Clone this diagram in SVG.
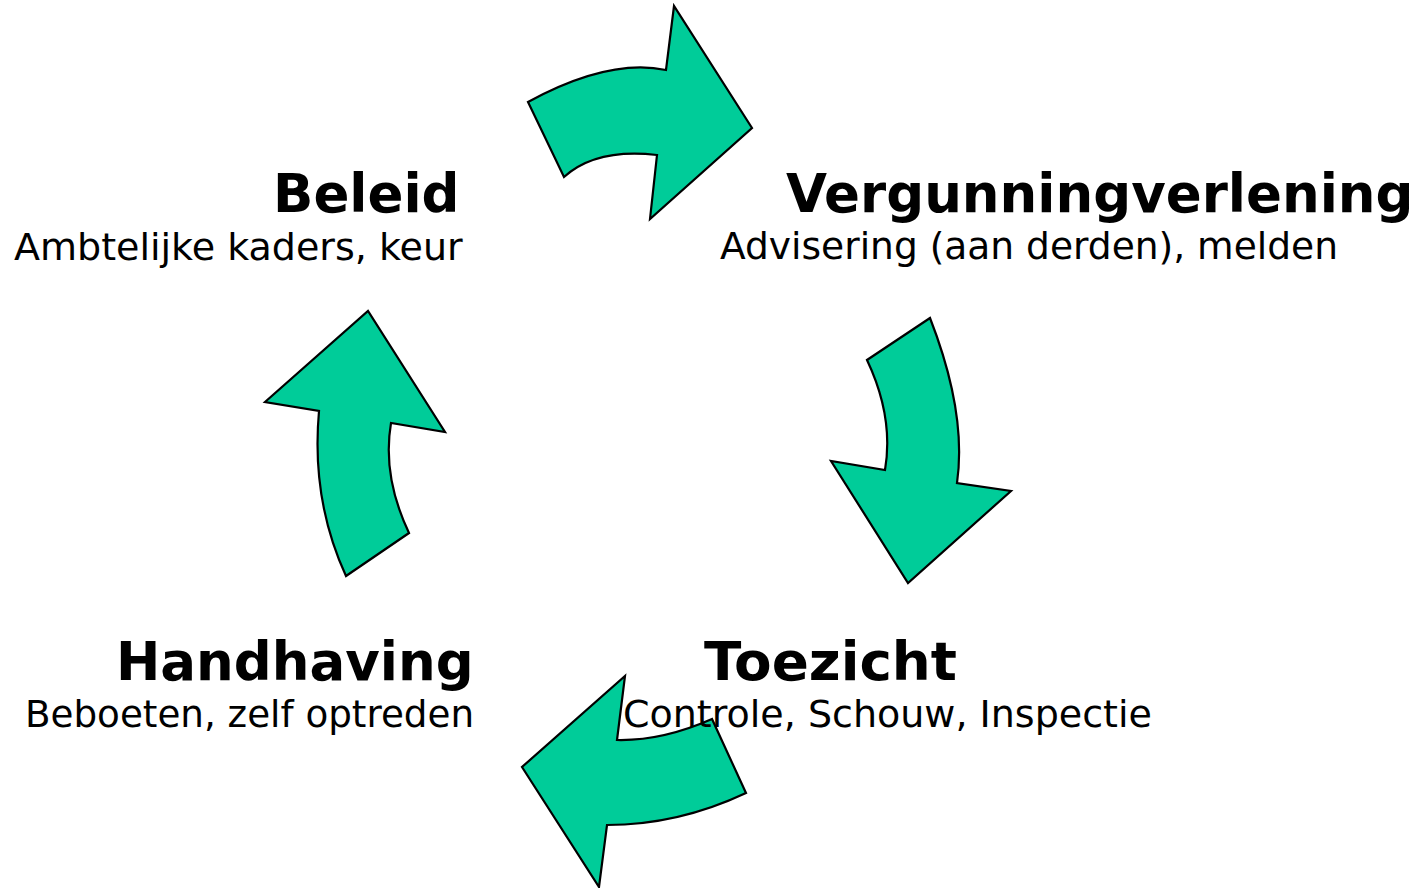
<svg xmlns="http://www.w3.org/2000/svg" width="1428" height="888" viewBox="0 0 1428 888">
<style>
.arrow{fill:#00CC99;stroke:#000;stroke-width:2.2;stroke-linejoin:miter}
.title{font-family:"DejaVu Sans",Verdana,sans-serif;font-weight:bold;font-size:53px;fill:#000}
.sub{font-family:"DejaVu Sans",Verdana,sans-serif;font-size:38px;fill:#000}
</style>
<rect width="1428" height="888" fill="#fff"/>
<g id="connectors">
<path class="arrow" d="M528,102 Q609,58 666,70 L674,6 L752,128 L650,219 L657,155 Q596,148 564,177 Z"/>
<path class="arrow" d="M930,318 Q967,413 957,483 L1011,491 L908,583 L831,461 L885,470 Q894,417 867,360 Z"/>
<path class="arrow" d="M746,793 Q678,825 607,825 L599,887 L522,767 L625,676 L617,740 Q662,741 712,719 Z"/>
<path class="arrow" d="M346,576 Q311,500 319,411 L265,402 L368,311 L445,432 L391,423 Q382,476 409,533 Z"/>
</g>
<g id="beleid">
<text class="title" x="273" y="212">Beleid</text>
<text class="sub" x="14" y="260">Ambtelijke kaders, keur</text>
</g>
<g id="vergunningverlening">
<text class="title" x="786" y="212">Vergunningverlening</text>
<text class="sub" x="720" y="259" textLength="618" lengthAdjust="spacingAndGlyphs">Advisering (aan derden), melden</text>
</g>
<g id="toezicht">
<text class="title" x="704" y="680" textLength="253" lengthAdjust="spacingAndGlyphs">Toezicht</text>
<text class="sub" x="623" y="727">Controle, Schouw, Inspectie</text>
</g>
<g id="handhaving">
<text class="title" x="116" y="680">Handhaving</text>
<text class="sub" x="25" y="727" textLength="449" lengthAdjust="spacingAndGlyphs">Beboeten, zelf optreden</text>
</g>
</svg>
